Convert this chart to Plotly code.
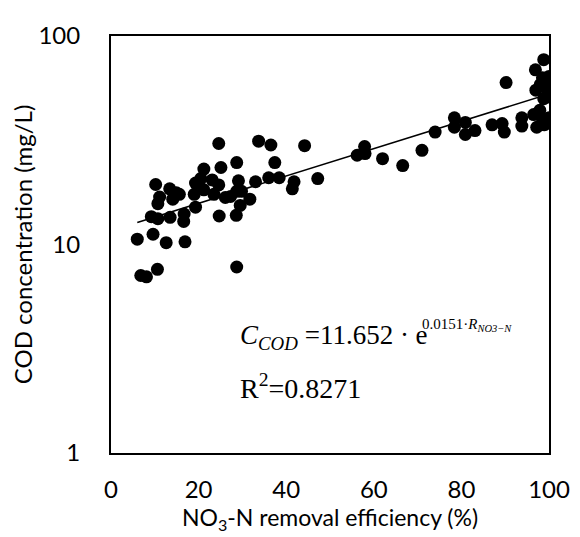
import math
import plotly.graph_objects as go

# Measured data: NO3-N removal efficiency (%) vs COD concentration (mg/L)
removal_eff = [
    24.6, 33.7, 36.5, 44.2, 28.7, 37.4, 21.2, 25.1, 10.2, 13.4,
    14.9, 11.1, 14.1, 10.7, 19.3, 20.5, 23.1, 24.6, 29.1, 33.0,
    36.0, 38.4, 41.8, 41.4, 19.0, 21.2, 23.5, 26.1, 28.7, 29.8,
    31.7, 19.3, 29.5, 28.6, 24.7, 9.2, 10.7, 13.5, 16.7, 16.6,
    6.0, 9.6, 12.6, 16.9, 6.8, 8.1, 10.6, 28.7, 15.6, 27.3,
    47.2, 56.2, 57.9, 58.0, 62.0, 66.6, 71.0, 74.0, 78.4, 78.4,
    80.9, 80.9, 83.1, 87.0, 89.3, 89.8, 90.2,
    96.9, 98.8, 98.5, 99.8, 98.0, 97.0, 99.5, 99.6, 98.8, 97.9,
    96.5, 98.5, 99.0, 100.0, 99.5, 97.2, 93.8, 93.8, 100.0, 100.0,
]
cod_conc = [
    30.5, 31.3, 30.0, 29.8, 24.7, 24.7, 23.0, 23.4, 19.4, 18.5,
    17.7, 16.9, 16.5, 15.7, 19.7, 20.7, 20.4, 19.3, 20.2, 20.0,
    20.9, 20.9, 20.0, 18.5, 17.4, 18.3, 17.4, 16.8, 18.0, 18.0,
    16.5, 15.1, 15.4, 13.8, 13.7, 13.6, 13.3, 13.5, 14.0, 12.9,
    10.6, 11.2, 10.2, 10.3, 7.1, 7.0, 7.6, 7.8, 17.4, 17.0,
    20.7, 26.8, 29.5, 27.3, 25.8, 23.9, 28.3, 34.6, 40.5, 36.5,
    38.5, 33.7, 35.2, 37.5, 38.0, 34.6, 59.8,
    68.8, 77.0, 63.0, 60.0, 58.5, 55.0, 56.0, 51.0, 50.0, 44.0,
    42.0, 40.0, 37.5, 40.5, 38.5, 36.5, 40.5, 37.0, 61.0, 64.0,
]

# Fitted model printed on the chart: C = A * exp(B * R)
COEF_A = 11.652
COEF_B = 0.0151
fit_x = [6.0, 100.0]
fit_y = [COEF_A * math.exp(COEF_B * v) for v in fit_x]

x_ticks = [0, 20, 40, 60, 80, 100]
y_ticks = [1, 10, 100]
y_tick_text = ["1", "10", "100"]

SANS = "Lato, 'Noto Sans', sans-serif"
SERIF = "'Liberation Serif', 'Times New Roman', serif"

fig = go.Figure()
fig.add_trace(go.Scatter(
    x=removal_eff, y=cod_conc, mode="markers",
    marker=dict(color="black", size=13, line=dict(width=0)),
    showlegend=False, hoverinfo="skip",
))
fig.add_trace(go.Scatter(
    x=fit_x, y=fit_y, mode="lines",
    line=dict(color="black", width=1.6),
    showlegend=False, hoverinfo="skip",
))

fig.update_layout(
    width=580, height=537,
    margin=dict(l=96, r=39, t=19, b=92),
    paper_bgcolor="white", plot_bgcolor="white",
    font=dict(family=SANS, color="black", size=24),
    xaxis=dict(
        range=[0, 100], tickvals=x_ticks, showgrid=False, zeroline=False,
        showline=True, linecolor="black", linewidth=2, mirror=True,
        ticks="", ticklabelstandoff=14,
        tickfont=dict(family=SANS, size=24),
        title=dict(text="NO<sub>3</sub>-N removal efficiency (%)",
                   font=dict(family=SANS, size=23), standoff=0),
    ),
    yaxis=dict(
        type="log", range=[0, 2], tickvals=y_ticks, ticktext=y_tick_text,
        showgrid=False, zeroline=False,
        showline=True, linecolor="black", linewidth=2, mirror=True,
        ticks="", ticklabelstandoff=24,
        tickfont=dict(family=SANS, size=24),
        title=dict(text="COD concentration (mg/L)",
                   font=dict(family=SANS, size=24), standoff=2),
    ),
)

fig.add_annotation(
    xref="x", yref="y", x=29.0, y=0.556, xanchor="left", yanchor="middle",
    text="<i>C</i><sub><i>COD</i></sub> =11.652 · e",
    showarrow=False, font=dict(family=SERIF, size=27, color="black"),
)
fig.add_annotation(
    xref="x", yref="y", x=70.6, y=0.615, xanchor="left", yanchor="middle",
    text="0.0151·<i>R</i><sub><i>NO3−N</i></sub>",
    showarrow=False, font=dict(family=SERIF, size=15, color="black"),
)
fig.add_annotation(
    xref="x", yref="y", x=29.0, y=0.318, xanchor="left", yanchor="middle",
    text="R<sup>2</sup>=0.8271",
    showarrow=False, font=dict(family=SERIF, size=28, color="black"),
)

fig.write_html("out.html")
